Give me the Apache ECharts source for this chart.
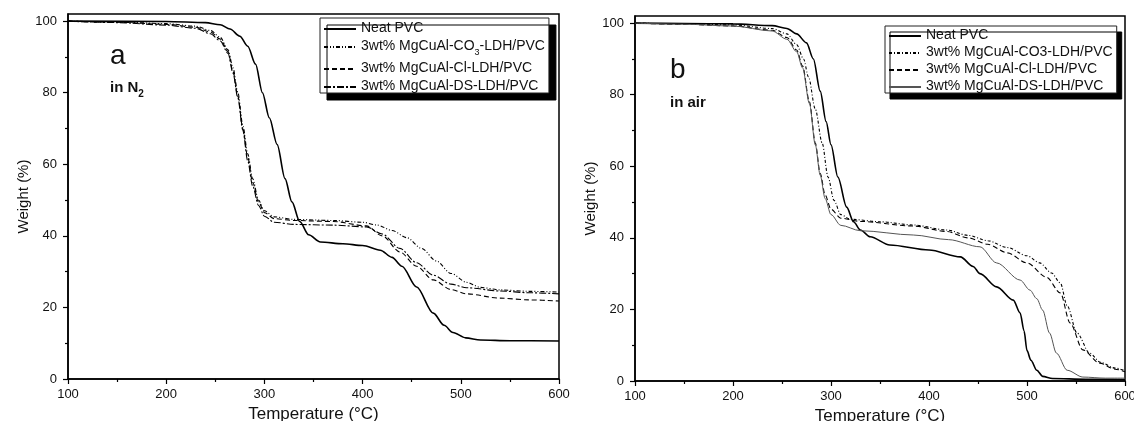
<!DOCTYPE html>
<html>
<head>
<meta charset="utf-8">
<script src="https://cdn.jsdelivr.net/npm/echarts@6/dist/echarts.min.js"></script>
<style>html,body{margin:0;padding:0;background:#fff;}#c{width:1134px;height:421px;}</style>
</head>
<body>
<div id="c"></div>
<script>
// ---- data (temperature °C, weight %) ----
const xTicks = [100, 200, 300, 400, 500, 600];
const yTicks = [0, 20, 40, 60, 80, 100];
const yMinorTicks = [10, 30, 50, 70, 90];

const labelsA = ['Neat PVC', '3wt% MgCuAl-CO3-LDH/PVC', '3wt% MgCuAl-Cl-LDH/PVC', '3wt% MgCuAl-DS-LDH/PVC'];
const labelsB = ['Neat PVC', '3wt% MgCuAl-CO3-LDH/PVC', '3wt% MgCuAl-Cl-LDH/PVC', '3wt% MgCuAl-DS-LDH/PVC'];

const neatN2 = [[100,100],[200,99.9],[240,99.6],[255,99.0],[265,97.8],[275,95.8],[283,93],[291,88],[298,80],[305,73],[313,65.5],[321,56],[328,49.5],[336,44],[345,40.3],[357,38.3],[380,37.8],[400,37.3],[418,36],[430,34],[440,31.5],[455,25.7],[472,18.4],[483,15],[492,13],[505,11.5],[520,10.9],[550,10.7],[600,10.6]];
const co3N2 = [[100,100],[150,99.8],[200,99.3],[230,98.6],[245,97.4],[255,95.5],[263,92],[268,87],[273,80],[278,71],[283,63],[288,56],[294,50],[300,47],[310,45.3],[330,44.6],[370,44.3],[400,43.8],[415,43],[430,41.5],[445,39.5],[460,36.5],[475,33],[490,29.5],[506,27],[520,25.6],[540,24.9],[570,24.5],[600,24.3]];
const clN2 = [[100,100],[150,99.7],[200,99.1],[230,98.3],[245,97],[255,95],[263,91.5],[268,86],[273,79],[278,70],[283,62],[288,55],[294,49.5],[300,46.5],[310,44.8],[330,44.3],[370,44],[404,42.8],[420,40],[438,35.5],[455,31.5],[472,27.7],[490,25],[506,23.8],[540,22.6],[570,22.1],[600,21.8]];
const dsN2 = [[100,100],[150,99.6],[200,98.9],[230,98],[245,96.5],[255,94.5],[263,91],[268,85.5],[273,78.5],[278,69.5],[283,61],[288,54],[294,48.5],[300,45.5],[310,43.8],[330,43.2],[370,43],[404,42.5],[420,40.5],[438,36.5],[455,32.5],[472,29],[490,26.5],[506,25.5],[540,24.6],[570,24.1],[600,23.8]];

const neatAir = [[100,100],[150,99.9],[200,99.8],[240,99.3],[255,98.5],[265,97],[275,94.5],[282,90],[289,81],[295,72.5],[300,66],[307,57],[316,48.6],[323,44.5],[330,42.2],[340,40.3],[360,38],[400,36.6],[432,34.7],[445,32],[452,30],[469,26.3],[486,22.6],[493,19],[497,14],[500,8.5],[504,5.8],[510,3],[516,1.3],[526,0.7],[560,0.5],[600,0.4]];
const co3Air = [[100,100],[150,99.8],[200,99.5],[240,98.5],[255,97],[265,94],[272,90],[277,85],[284,76],[291,66.5],[297,57],[303,50.5],[310,46.5],[320,45.2],[350,44.5],[384,43.6],[418,42.2],[440,40.7],[460,39.2],[480,37.3],[500,35],[513,33],[525,30.2],[534,27.4],[541,21],[551,13.4],[564,7.8],[575,5.2],[590,3.6],[600,2.9]];
const clAir = [[100,100],[150,99.7],[200,99.2],[240,98],[255,96],[265,92.5],[271,88],[278,78],[284,66.5],[289,58],[294,52],[300,48],[310,45.5],[330,44.6],[384,43.3],[418,41.8],[440,40],[460,38.2],[480,35.8],[500,33],[520,29],[534,24.6],[544,16.2],[557,8.7],[574,5],[590,3.3],[600,2.6]];
const dsAir = [[100,100],[150,99.7],[200,99.2],[240,97.8],[255,95.5],[265,92],[271,87.5],[278,77.5],[284,66],[289,57.5],[294,51],[300,46.5],[310,43.5],[330,42],[384,40.8],[420,39.5],[452,37.5],[469,33],[493,28.2],[503,25.4],[510,23],[516,19.8],[523,13.4],[530,7.8],[541,3],[557,1.1],[580,0.8],[600,0.8]];

// ---- chart ----
const FONT = '"Liberation Sans", Arial, Helvetica, sans-serif';
const chart = echarts.init(document.getElementById('c'), null, {renderer: 'canvas'});

function xAxisFor(gi) {
  return {
    type: 'value', gridIndex: gi, min: 100, max: 600, interval: 100,
    name: 'Temperature (°C)', nameLocation: 'middle', nameGap: 25,
    nameTextStyle: {fontFamily: FONT, fontSize: 17, color: '#111'},
    axisLine: {lineStyle: {color: '#000', width: 1.5}},
    axisTick: {length: 5, lineStyle: {color: '#000', width: 1.2}},
    minorTick: {show: true, splitNumber: 2, length: 3, lineStyle: {color: '#000', width: 1.2}},
    axisLabel: {fontFamily: FONT, fontSize: 13, color: '#111', margin: 9},
    splitLine: {show: false}
  };
}
function yAxisFor(gi) {
  return {
    type: 'value', gridIndex: gi, min: 0, max: 102,
    name: 'Weight (%)', nameLocation: 'middle', nameGap: 35,
    nameTextStyle: {fontFamily: FONT, fontSize: 15, color: '#111'},
    axisLine: {lineStyle: {color: '#000', width: 1.5}},
    axisTick: {length: 5, customValues: yTicks, lineStyle: {color: '#000', width: 1.2}},
    axisLabel: {fontFamily: FONT, fontSize: 13, color: '#111', margin: 11, customValues: yTicks},
    splitLine: {show: false}
  };
}
function yMinorFor(gi) {
  return {
    type: 'value', gridIndex: gi, min: 0, max: 102, position: 'left',
    axisLine: {show: false},
    axisTick: {show: true, length: 3, customValues: yMinorTicks, lineStyle: {color: '#000', width: 1.2}},
    axisLabel: {show: false},
    splitLine: {show: false}
  };
}
function line(name, data, gi, style) {
  return {
    name: name, type: 'line', xAxisIndex: gi, yAxisIndex: gi * 2, data: data,
    symbol: 'none', showSymbol: false, smooth: 0.3, smoothMonotone: 'x',
    lineStyle: Object.assign({color: '#000', width: 1.1}, style),
    itemStyle: {color: style.color || '#000'},
    animation: false
  };
}
function fmt(name) {
  const n = name.replace(/^[ab]:/, '');
  if (name.indexOf('a:') === 0 && n.indexOf('CO3') >= 0) {
    const p = n.split('CO3');
    return '{t|' + p[0] + 'CO}{s|3}{t|' + p[1] + '}';
  }
  return '{t|' + n + '}';
}
const legendCommon = {
  orient: 'vertical', itemWidth: 32, itemHeight: 10, itemGap: 2,
  backgroundColor: '#fff', borderColor: '#222', borderWidth: 1,
  shadowColor: '#000', shadowBlur: 0, shadowOffsetX: 7, shadowOffsetY: 7,
  formatter: fmt, selectedMode: false,
  itemStyle: {opacity: 0, borderWidth: 0},
  textStyle: {
    fontFamily: FONT, fontSize: 14, color: '#111',
    rich: {
      t: {fontFamily: FONT, fontSize: 14, lineHeight: 16, color: '#111', verticalAlign: 'top'},
      s: {fontFamily: FONT, fontSize: 9, lineHeight: 9, color: '#111', verticalAlign: 'top', padding: [9, 0, 0, 0]}
    }
  }
};

const option = {
  backgroundColor: '#fff',
  animation: false,
  grid: [
    {left: 68, right: 1134 - 559, top: 14, bottom: 421 - 379, show: true, borderColor: '#000', borderWidth: 1.5, outerBoundsMode: 'none', containLabel: false},
    {left: 635, right: 1134 - 1125, top: 16, bottom: 421 - 381, show: true, borderColor: '#000', borderWidth: 1.5, outerBoundsMode: 'none', containLabel: false}
  ],
  xAxis: [xAxisFor(0), xAxisFor(1)],
  yAxis: [yAxisFor(0), yMinorFor(0), yAxisFor(1), yMinorFor(1)],
  legend: [
    Object.assign({}, legendCommon, {left: 320, top: 18, padding: [3, 4, 0, 3], itemGap: 4,
      data: labelsA.map(n => 'a:' + n)}),
    Object.assign({}, legendCommon, {left: 885, top: 26, padding: [2, 4, 0, 3], itemGap: 3, shadowOffsetX: 5, shadowOffsetY: 6,
      data: labelsB.map(n => 'b:' + n)})
  ],
  series: [
    line('a:' + labelsA[0], neatN2, 0, {width: 1.6}),
    line('a:' + labelsA[1], co3N2, 0, {type: [4, 2, 1, 2, 1, 2]}),
    line('a:' + labelsA[2], clN2, 0, {type: [5, 3]}),
    line('a:' + labelsA[3], dsN2, 0, {type: [7, 2, 2, 2]}),
    Object.assign(line('b:' + labelsB[0], neatAir, 1, {width: 1.6}), {yAxisIndex: 2}),
    Object.assign(line('b:' + labelsB[1], co3Air, 1, {type: [3, 2, 1, 2]}), {yAxisIndex: 2}),
    Object.assign(line('b:' + labelsB[2], clAir, 1, {type: [5, 3]}), {yAxisIndex: 2}),
    Object.assign(line('b:' + labelsB[3], dsAir, 1, {color: '#555', width: 1}), {yAxisIndex: 2})
  ],
  graphic: [
    {type: 'text', left: 110, top: 42, style: {text: 'a', font: '28px ' + FONT, fill: '#111'}},
    {type: 'text', left: 110, top: 80, style: {text: '{b|in N}{s|2}', font: 'bold 15px ' + FONT, fill: '#111',
      rich: {b: {font: 'bold 15px ' + FONT, lineHeight: 17, verticalAlign: 'top'}, s: {font: 'bold 10px ' + FONT, lineHeight: 10, verticalAlign: 'top', padding: [9, 0, 0, 0]}}}},
    {type: 'text', left: 670, top: 56, style: {text: 'b', font: '28px ' + FONT, fill: '#111'}},
    {type: 'text', left: 670, top: 95, style: {text: 'in air', font: 'bold 15px ' + FONT, fill: '#111'}}
  ]
};
chart.setOption(option);
</script>
</body>
</html>
